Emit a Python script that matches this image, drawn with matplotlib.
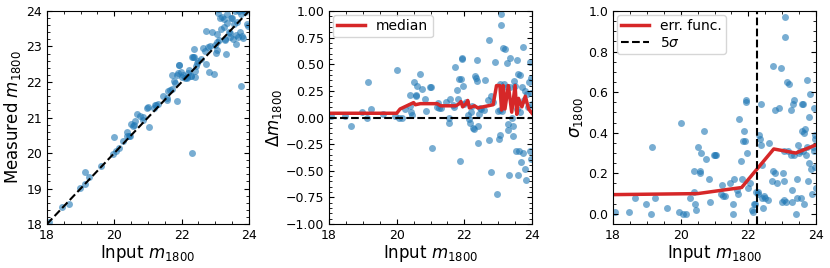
import numpy as np
import matplotlib
matplotlib.use('Agg')
import matplotlib.pyplot as plt
from matplotlib.ticker import AutoMinorLocator

# Input magnitudes and measured offsets (measured - input)
m_in = [18.05, 18.46, 18.64, 18.97, 19.14, 19.13, 19.24, 19.60, 19.95, 20.00,
        20.06, 20.15, 20.26, 20.38, 20.38, 20.43, 20.46, 20.50, 20.56, 20.58,
        20.60, 20.68, 20.76, 20.85, 20.86, 20.97, 21.03, 21.00,
        21.18, 21.22, 21.25, 21.30, 21.45, 21.55, 21.56, 21.58, 21.65, 21.70,
        21.72, 21.77, 21.80, 21.85, 21.87, 21.90, 21.92, 21.93, 21.97, 22.00, 22.05,
        22.10, 22.15, 22.17, 22.19, 22.22, 22.27, 22.29, 22.30, 22.32, 22.34,
        22.36, 22.38, 22.39, 22.40, 22.42, 22.45, 22.50, 22.58, 22.62, 22.70,
        22.72, 22.73, 22.78, 22.80, 22.85, 22.90, 22.95, 22.98,
        23.02, 23.05, 23.05, 23.06, 23.08, 23.07, 23.12, 23.15, 23.18, 23.20,
        23.25, 23.27, 23.28, 23.30, 23.32, 23.35, 23.36, 23.40, 23.43, 23.45,
        23.47, 23.50, 23.52, 23.55, 23.57, 23.58, 23.60, 23.62, 23.63, 23.65,
        23.68, 23.70, 23.72, 23.74, 23.75, 23.76, 23.78, 23.80, 23.82, 23.85,
        23.88, 23.90, 23.93, 23.95, 23.97, 23.98, 23.99, 23.96]
dm = [0.01, 0.01, -0.08, 0.05, 0.33, 0.00, 0.08, 0.03, 0.01, 0.45,
      0.00, -0.00, 0.08, 0.21, 0.11, 0.05, 0.02, 0.33, 0.20, 0.21,
      0.30, 0.41, 0.27, 0.17, 0.06, 0.29, -0.29, 0.29,
      0.10, 0.14, 0.09, 0.09, 0.15, -0.05, 0.00, 0.17, 0.12, 0.10,
      0.47, 0.26, 0.17, 0.36, -0.41, 0.36, 0.56, 0.55, 0.30, 0.13, 0.15,
      0.02, -0.01, -0.05, 0.05, 0.11, -0.10, -0.11, -2.30, 0.39, 0.37,
      0.34, 0.54, -0.24, -0.08, 0.03, 0.09, 0.08, 0.07, 0.35, 0.16,
      0.73, -0.21, 0.20, -0.51, 0.15, 0.52, -0.72, 0.06,
      -0.20, -0.16, 0.31, 0.07, 0.97, 0.87, 0.06, 0.65, 0.31, 0.64,
      0.29, 0.51, -0.06, -0.12, -0.54, 0.56, 0.29, 0.00, -0.17, -0.08,
      0.34, 0.30, -0.31, 0.08, 0.54, 0.41, -0.54, -0.31, 0.05, 0.40,
      -0.42, 0.29, 0.66, -0.33, -1.85, 0.16, -0.48, 0.25, -0.59, 0.22,
      0.10, 0.33, 0.52, -0.31, -0.39, 0.23, 0.13, 0.37]

# running median of the offset
med_x = [18.0, 20.0, 20.1, 20.3, 20.5, 20.55, 20.7, 21.2, 21.3, 21.75, 21.85, 21.9,
         21.95, 22.05, 22.1, 22.15, 22.3, 22.4, 22.55, 22.7, 22.85, 22.95, 23.05,
         23.1, 23.15, 23.2, 23.3, 23.4, 23.5, 23.55, 23.6, 23.7, 23.8, 23.9, 24.0]
med_y = [0.04, 0.04, 0.08, 0.11, 0.14, 0.12, 0.13, 0.13, 0.11, 0.11, 0.13, 0.15,
         0.10, 0.13, 0.16, 0.09, 0.11, 0.09, 0.10, 0.11, 0.12, 0.30, 0.30,
         0.07, 0.30, 0.08, 0.30, 0.05, 0.30, 0.03, 0.18, 0.10, 0.20, 0.08, 0.04]

# error function
err_x = [18.0, 20.5, 21.8, 22.75, 23.4, 24.0]
err_y = [0.095, 0.10, 0.13, 0.32, 0.30, 0.34]
lim5 = 22.25

m_in = np.array(m_in)
dm = np.array(dm)
m_out = m_in + dm
sig = np.abs(dm)

plt.rcParams['font.size'] = 9

def style(ax):
    ax.tick_params(which='both', direction='in', top=True, right=True, labelsize=9)
    ax.xaxis.set_minor_locator(AutoMinorLocator())
    ax.yaxis.set_minor_locator(AutoMinorLocator())
    ax.set_xlim(18, 24)
    ax.set_xticks([18, 20, 22, 24])
    ax.set_xlabel('Input $m_{1800}$', fontsize=12, labelpad=1)

fig = plt.figure(figsize=(8.3, 2.68), dpi=100)
ax1 = fig.add_axes([0.0566, 0.164, 0.2434, 0.795])
ax2 = fig.add_axes([0.3964, 0.164, 0.2446, 0.795])
ax3 = fig.add_axes([0.7386, 0.164, 0.2446, 0.795])

ax1.scatter(m_in, m_out, s=25, color='tab:blue', alpha=0.6, lw=0)
ax1.plot([18, 24], [18, 24], 'k--', lw=1.5)
style(ax1)
ax1.set_ylim(18, 24)
ax1.set_ylabel('Measured $m_{1800}$', fontsize=12, labelpad=2)

ax2.scatter(m_in, dm, s=25, color='tab:blue', alpha=0.6, lw=0)
ax2.axhline(0, color='k', ls='--', lw=1.5)
ax2.plot(med_x, med_y, color='tab:red', lw=2.5, label='median')
style(ax2)
ax2.set_ylim(-1, 1)
ax2.set_yticks(np.arange(-1, 1.01, 0.25))
ax2.set_ylabel(r'$\Delta m_{1800}$', fontsize=12, labelpad=1)
ax2.legend(loc='upper left', fontsize=10, handlelength=2, borderpad=0.3,
           borderaxespad=0.3)

ax3.scatter(m_in, sig, s=25, color='tab:blue', alpha=0.6, lw=0)
ax3.plot(err_x, err_y, color='tab:red', lw=2.5, label='err. func.')
ax3.axvline(lim5, color='k', ls='--', lw=1.5, label=r'5$\sigma$')
style(ax3)
ax3.set_ylim(-0.05, 1.0)
ax3.set_yticks(np.arange(0, 1.01, 0.2))
ax3.set_ylabel(r'$\sigma_{1800}$', fontsize=12, labelpad=2)
ax3.legend(loc='upper left', fontsize=10, handlelength=2, borderpad=0.3,
           borderaxespad=0.3, labelspacing=0.2)

fig.savefig('out.png', dpi=100)
